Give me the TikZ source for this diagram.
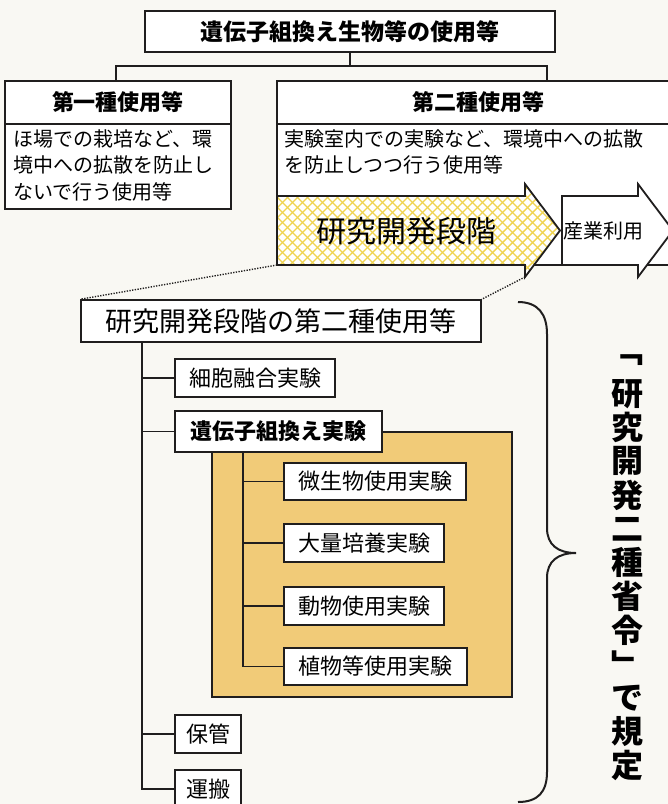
\documentclass[tikz,border=0pt]{standalone}
\usepackage{fontspec}
\setmainfont{Noto Sans CJK JP}
\usetikzlibrary{calc}
\definecolor{paper}{RGB}{249,248,243}
\definecolor{ink}{RGB}{32,30,30}
\definecolor{tan}{RGB}{241,203,120}
\definecolor{hatch}{RGB}{240,212,80}
\begin{document}
\begin{tikzpicture}[x=1pt,y=-1pt,
  box/.style={draw=ink, line width=1.5pt, fill=white, inner sep=0pt, anchor=center},
  conn/.style={draw=ink, line width=1.5pt},
  fa/.style={font=\fontsize{22}{26}\selectfont},
  fb/.style={font=\bfseries\fontsize{22}{26}\selectfont},
  body/.style={anchor=north west, align=left, inner sep=0pt, font=\fontsize{20}{26.5}\selectfont},
  dotline/.style={draw=ink, line width=1.4pt, dash pattern=on 1.3pt off 1.4pt},
  vt/.style={inner sep=0pt, font=\bfseries\fontsize{32}{34}\selectfont}
]
\useasboundingbox (0,0) rectangle (668,804);
\fill[paper] (0,0) rectangle (668,804);

% ---- top level
\node[box, minimum width=410pt, minimum height=41pt, font=\bfseries\fontsize{23}{27}\selectfont] (top) at (350,31.5) {遺伝子組換え生物等の使用等};
\coordinate (jn) at (350,66);
\coordinate (dl) at (116,81);
\coordinate (dr) at (547,81);
\draw[conn] (top.south) -- (jn);
\draw[conn] (dl) -- (dl |- jn) -- (dr |- jn) -- (dr);

% ---- first type
\node[box, minimum width=226pt, minimum height=128pt] (first) at (118,145) {};
\node[box, fb, minimum width=226pt, minimum height=43pt] (firsthead) at (118,102.5) {第一種使用等};
\node[body] (firsttext) at (13,129) {ほ場での栽培など、環\\境中への拡散を防止し\\ないで行う使用等};

% ---- second type
\node[box, minimum width=402pt, minimum height=184pt] (second) at (478,173) {};
\node[box, fb, minimum width=402pt, minimum height=43pt] (secondhead) at (478,102.5) {第二種使用等};
\node[body] (secondtext) at (284,129) {実験室内での実験など、環境中への拡散\\を防止しつつ行う使用等};

% ---- arrows
\begin{scope}
  \clip (277,196) -- (525,196) -- (525,184) -- (560,230.5) -- (525,277) -- (525,265) -- (277,265) -- cycle;
  \fill[white] (270,180) rectangle (570,285);
  \foreach \s in {150,160,...,600} {
    \draw[hatch, line width=1.4pt] (\s,180) -- ++(105,105);
    \draw[hatch, line width=1.4pt] (\s,285) -- ++(105,-105);
  }
\end{scope}
\draw[ink, line width=1.8pt, line join=miter] (277,196) -- (525,196) -- (525,184) -- (560,230.5) -- (525,277) -- (525,265) -- (277,265) -- cycle;
\draw[ink, line width=1.8pt, line join=miter, fill=white] (562,196) -- (638,196) -- (638,184) -- (673,230.5) -- (638,277) -- (638,265) -- (562,265) -- cycle;
\node[font=\fontsize{30}{34}\selectfont, inner sep=0pt] (kenkyu) at (406,231) {研究開発段階};
\node[font=\fontsize{20}{24}\selectfont, inner sep=0pt] (sangyo) at (603,231) {産業利用};
\coordinate (abl) at (277,265);
\coordinate (ahb) at (525,277);

% ---- research stage box
\node[box, minimum width=400pt, minimum height=42pt, font=\fontsize{27}{31}\selectfont] (big) at (281,321) {研究開発段階の第二種使用等};
\draw[dotline] (abl) -- (big.north west);
\draw[dotline] (ahb) -- (big.north east);

% ---- orange area
\node[draw=ink, line width=2pt, fill=tan, minimum width=300pt, minimum height=265pt, inner sep=0pt] (orange) at (362,564.5) {};

% ---- items
\coordinate (tr) at (142,342);
\coordinate (itr) at (243,452);
\node[box, fa, minimum width=160pt, minimum height=38pt] (saibou) at (255,378) {細胞融合実験};
\node[box, fa, minimum width=182pt, minimum height=37pt] (biseibutsu) at (375,481.5) {微生物使用実験};
\node[box, fa, minimum width=160pt, minimum height=38pt] (tairyo) at (364,543) {大量培養実験};
\node[box, fa, minimum width=160pt, minimum height=38pt] (dobutsu) at (364,606) {動物使用実験};
\node[box, fa, minimum width=183pt, minimum height=37pt] (shokubutsu) at (375.5,666.5) {植物等使用実験};
\node[box, fa, minimum width=66pt, minimum height=38pt] (hokan) at (208,734) {保管};
\node[box, fa, minimum width=66pt, minimum height=38pt] (unpan) at (208,789) {運搬};

\draw[conn] (tr) |- (unpan.west);
\foreach \n in {saibou,hokan} \draw[conn] (tr |- \n.west) -- (\n.west);
\draw[conn] (itr) |- (shokubutsu.west);
\foreach \n in {biseibutsu,tairyo,dobutsu} \draw[conn] (itr |- \n.west) -- (\n.west);

\node[box, fb, line width=2.6pt, minimum width=207pt, minimum height=41pt] (idenshi) at (278.5,431.5) {遺伝子組換え実験};
\draw[conn] (tr |- idenshi.west) -- (idenshi.west);

% ---- brace
\draw[ink, line width=2pt] (518,302) .. controls (538,302) and (547,314) .. (547,334) -- (547,528) .. controls (547,545) and (558,553) .. (576,553) .. controls (558,553) and (547,561) .. (547,578) -- (547,772) .. controls (547,792) and (538,802) .. (518,802);

% ---- vertical text
\node[vt] (vb1) at (627,360) {﹁};
\foreach \c [count=\i] in {研,究,開,発,二,種,省,令}
  \node[vt] (v\i) at (627,{360+33.8*\i}) {\c};
\node[vt] (vb2) at (627,{360+33.8*9}) {﹂};
\node[vt] (v10) at (627,{360+33.8*10}) {で};
\node[vt] (v11) at (627,{360+33.8*11}) {規};
\node[vt] (v12) at (627,{360+33.8*12}) {定};
\end{tikzpicture}
\end{document}
